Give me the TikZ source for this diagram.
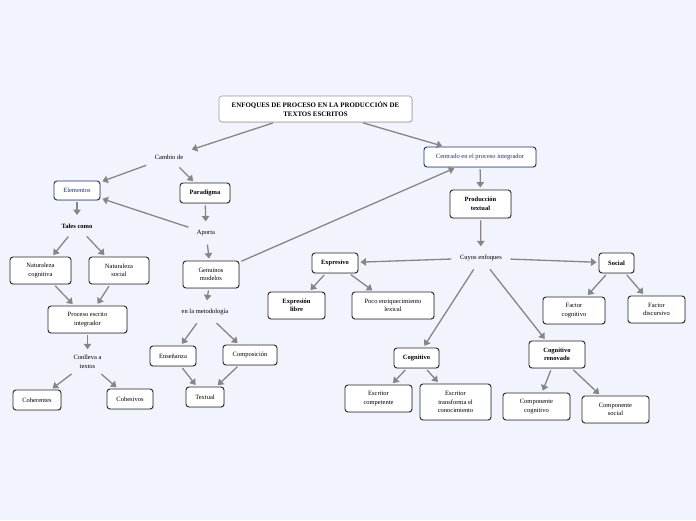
\documentclass[tikz,border=0pt]{standalone}
\usepackage{fontspec}
\setmainfont{Liberation Serif}
\usetikzlibrary{arrows.meta,shadows}
\definecolor{bg}{RGB}{241,244,252}
\definecolor{arrc}{RGB}{134,134,134}
\definecolor{navy}{RGB}{30,50,100}
\tikzset{
 box/.style={draw=black!85, line width=0.9pt, fill=white, rounded corners=3pt, align=center, inner sep=1pt, font=\fontsize{6.5}{8.5}\selectfont, drop shadow={shadow xshift=0.7pt, shadow yshift=-0.7pt, opacity=0.3}},
 navybox/.style={box, draw=navy, text=navy},
 lbl/.style={align=center, inner sep=6.5pt, font=\fontsize{6.5}{8.5}\selectfont},
 con/.style={draw=arrc, line width=1.3pt, -{Triangle[length=5.5pt,width=7.5pt]}, shorten >=2pt, shorten <=2pt},
 bf/.style={font=\fontsize{6.5}{8.5}\selectfont\bfseries},
 sz/.style 2 args={minimum width=#1pt, minimum height=#2pt},
}
\begin{document}
\begin{tikzpicture}[x=1pt,y=-1pt]
\fill[bg] (0,0) rectangle (696,520);
\useasboundingbox (0,0) rectangle (696,520);

\node[box, draw=gray!80, line width=0.6pt, sz={193}{26}, font=\fontsize{6.9}{8.5}\selectfont\bfseries] (title) at (315.5,109) {ENFOQUES DE PROCESO EN LA PRODUCCIÓN DE\\TEXTOS ESCRITOS};
\node[lbl] (cambio) at (169,157) {Cambio de};
\node[navybox, sz={46}{19}] (elem) at (77,190.5) {Elementos};
\node[box, bf, sz={50}{20}] (parad) at (205,193) {Paradigma};
\node[lbl] (aporta) at (206,233) {Aporta};
\node[lbl, bf] (tales) at (77,226) {Tales como};
\node[box, sz={61}{27}] (natcog) at (40.5,270.5) {Naturaleza\\cognitiva};
\node[box, sz={60}{27}] (natsoc) at (119,270.5) {Naturaleza\\social};
\node[box, sz={79}{27}] (pei) at (87.5,319.5) {Proceso escrito\\integrador};
\node[lbl, inner sep=4pt] (conlleva) at (87.5,362) {Conlleva a\\textos};
\node[box, sz={48}{20}] (coher) at (37,400) {Coherentes};
\node[box, sz={46}{20}] (cohes) at (130,399) {Cohesivos};
\node[box, sz={56}{27}] (genu) at (211,274.5) {Genuinos\\modelos};
\node[lbl] (metod) at (205,312) {en la metodología};
\node[box, sz={46}{20}] (ense) at (173,356) {Enseñanza};
\node[box, sz={54}{20}] (compo) at (250,355) {Composición};
\node[box, sz={38}{20}] (textual) at (205,397) {Textual};
\node[navybox, sz={112}{20}] (centr) at (480,157) {Centrado en el proceso integrador};
\node[box, bf, sz={61}{28}] (prod) at (480.5,204) {Producción\\textual};
\node[lbl] (cuyos) at (481,258) {Cuyos enfoques};
\node[box, bf, sz={46}{20}] (expr) at (335,263) {Expresivo};
\node[box, bf, sz={57}{27}] (exlib) at (296.5,305.5) {Expresión\\libre};
\node[box, sz={82}{27}] (poco) at (393,305.5) {Poco enriquecimiento\\lexical};
\node[box, bf, sz={35}{20}] (social) at (616.5,263) {Social};
\node[box, sz={62}{27}] (faccog) at (574,310.5) {Factor\\cognitivo};
\node[box, sz={57}{27}] (facdis) at (656.5,309.5) {Factor\\discursivo};
\node[box, bf, sz={45}{20}] (cogn) at (416.5,358) {Cognitivo};
\node[box, sz={67}{27}] (escomp) at (378.5,398.5) {Escritor\\competente};
\node[box, sz={71}{36}] (estrans) at (455.5,402) {Escritor\\transforma el\\conocimiento};
\node[box, bf, sz={56}{27}] (cogren) at (557,354.5) {Cognitivo\\renovado};
\node[box, sz={67}{27}] (compcog) at (536.5,406.5) {Componente\\cognitivo};
\node[box, sz={67}{27}] (compsoc) at (615.5,409.5) {Componente\\social};

\draw[con] (title) -- (cambio);
\draw[con] (title) -- (centr);
\draw[con] (cambio) -- (elem);
\draw[con] (cambio) -- (parad);
\draw[con] (parad) -- (aporta);
\draw[con] (aporta) -- (elem);
\draw[con] (elem) -- (tales);
\draw[con] (tales) -- (natcog);
\draw[con] (tales) -- (natsoc);
\draw[con] (natcog) -- (pei);
\draw[con] (natsoc) -- (pei);
\draw[con] (pei) -- (conlleva);
\draw[con] (conlleva) -- (coher);
\draw[con] (conlleva) -- (cohes);
\draw[con] (aporta) -- (genu);
\draw[con] (genu) -- (centr);
\draw[con] (genu) -- (metod);
\draw[con] (metod) -- (ense);
\draw[con] (metod) -- (compo);
\draw[con] (ense) -- (textual);
\draw[con] (compo) -- (textual);
\draw[con] (centr) -- (prod);
\draw[con] (prod) -- (cuyos);
\draw[con] (cuyos) -- (expr);
\draw[con] (cuyos) -- (social);
\draw[con] (cuyos) -- (cogn);
\draw[con] (cuyos) -- (cogren);
\draw[con] (expr) -- (exlib);
\draw[con] (expr) -- (poco);
\draw[con] (social) -- (faccog);
\draw[con] (social) -- (facdis);
\draw[con] (cogn) -- (escomp);
\draw[con] (cogn) -- (estrans);
\draw[con] (cogren) -- (compcog);
\draw[con] (cogren) -- (compsoc);
\end{tikzpicture}
\end{document}
